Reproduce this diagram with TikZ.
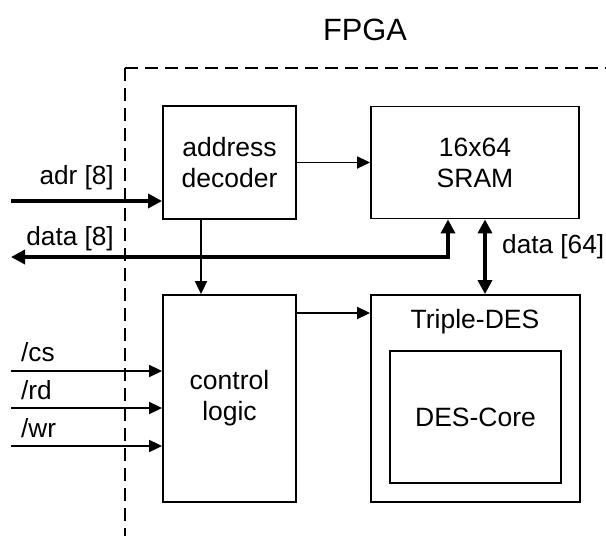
\documentclass[tikz,border=0pt]{standalone}
\usepackage{fontspec}
\setmainfont{Liberation Sans}
\usetikzlibrary{arrows.meta}
\begin{document}
\begin{tikzpicture}[x=1pt,y=-1pt,
  txt/.style={inner sep=0pt,font=\fontsize{26.2}{31}\selectfont},
  blk/.style={draw,line width=1.8pt,inner sep=0pt,align=center,font=\fontsize{26.5}{31}\selectfont},
  sig/.style={line width=1.8pt,-{Triangle[length=13pt,width=12pt]}},
  bus/.style={line width=3.4pt},
  bustip/.tip={Triangle[length=14pt,width=14pt]},
  frame/.style={line width=1.6pt,dash pattern=on 13pt off 7pt}]
\useasboundingbox (0,0) rectangle (606,536);

% title
\node[inner sep=0pt,font=\fontsize{30.8}{36}\selectfont] (title) at (365,30) {FPGA};

% FPGA boundary
\draw[frame] (125,68) -- (125,536);
\draw[frame] (125,68) -- (606,68);

% blocks
\node[blk,minimum width=133pt,minimum height=113pt] (ad) at (229.5,162.5) {address\\decoder};
\node[blk,minimum width=208pt,minimum height=112pt] (sram) at (475,162.5) {16x64\\SRAM};
\node[blk,minimum width=133pt,minimum height=207pt] (ctrl) at (229.5,398.5) {control\\logic};
\node[blk,minimum width=209pt,minimum height=207pt] (tdes) at (475.5,398.5) {};
\node[txt,font=\fontsize{26.5}{31}\selectfont] (tdeslbl) at (475,322) {Triple-DES};
\node[blk,minimum width=171pt,minimum height=132pt] (core) at (475.5,417) {DES-Core};

% helper coordinates
\coordinate (inadr) at (11,201);
\coordinate (outdata) at (11,257);
\coordinate (xd8) at (448,0);
\coordinate (xd64) at (485,0);
\coordinate (xdec) at (201,0);
\coordinate (incs) at (11,371);
\coordinate (inrd) at (11,408);
\coordinate (inwr) at (11,446);

% buses
\draw[bus,-bustip] (inadr) -- (inadr -| ad.west);
\draw[bus,bustip-bustip] (outdata) -| (xd8 |- sram.south);
\draw[bus,bustip-bustip] (xd64 |- sram.south) -- (xd64 |- tdes.north);

% single signals
\draw[sig] (ad.east) -- (sram.west);
\draw[sig] (xdec |- ad.south) -- (xdec |- ctrl.north);
\draw[sig] (ctrl.east |- 0,313) -- (tdes.west |- 0,313);
\draw[sig] (incs) -- (incs -| ctrl.west);
\draw[sig] (inrd) -- (inrd -| ctrl.west);
\draw[sig] (inwr) -- (inwr -| ctrl.west);

% labels
\node[txt,anchor=east] (ladr) at (114,178) {adr [8]};
\node[txt,anchor=east] (ld8) at (114,239) {data [8]};
\node[txt,anchor=west] (ld64) at (502,247) {data [64]};
\node[txt,anchor=west] (lcs) at (21,352) {/cs};
\node[txt,anchor=west] (lrd) at (21,390) {/rd};
\node[txt,anchor=west] (lwr) at (21,428) {/wr};
\end{tikzpicture}
\end{document}
